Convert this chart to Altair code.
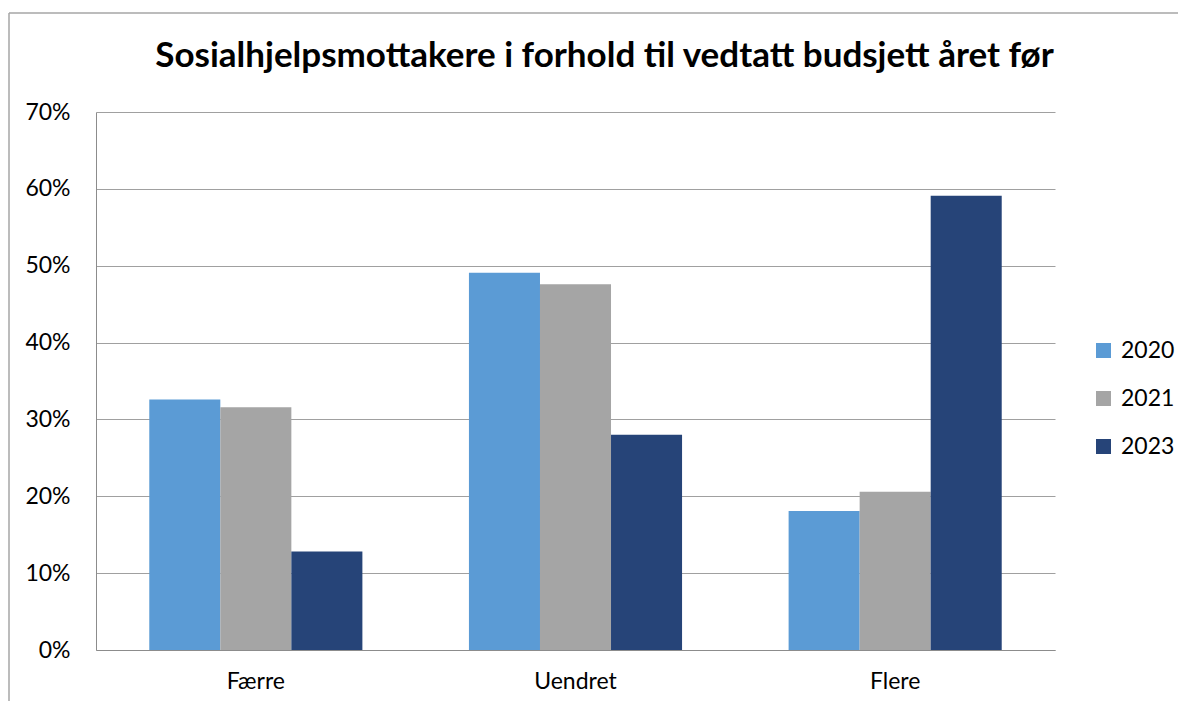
import altair as alt
import pandas as pd

categories = ["Færre", "Uendret", "Flere"]
years = ["2020", "2021", "2023"]
values_2020 = [0.326, 0.491, 0.181]
values_2021 = [0.316, 0.476, 0.206]
values_2023 = [0.128, 0.280, 0.591]
colors = ["#5b9bd5", "#a5a5a5", "#264478"]
title_text = "Sosialhjelpsmottakere i forhold til vedtatt budsjett året før"

rows = []
for yr, vals in zip(years, [values_2020, values_2021, values_2023]):
    for c, v in zip(categories, vals):
        rows.append({"Kategori": c, "År": yr, "Andel": v})
df = pd.DataFrame(rows)

FONT = "Lato"
FS = 23
W, H = 959, 538

bars = alt.Chart(df).mark_bar().encode(
    x=alt.X("Kategori:N", sort=categories, title=None,
            scale=alt.Scale(paddingInner=1/3, paddingOuter=1/6),
            axis=alt.Axis(labelAngle=0, labelFontSize=FS, labelFont=FONT,
                          labelColor="#000000", labelPadding=20, ticks=False,
                          grid=False, domainColor="#8c8c8c", domainWidth=1)),
    xOffset=alt.XOffset("År:N", sort=years,
                        scale=alt.Scale(paddingInner=0, paddingOuter=0)),
    y=alt.Y("Andel:Q", title=None,
            scale=alt.Scale(domain=[0, 0.7], nice=False),
            axis=alt.Axis(format=".0%", values=[0, 0.1, 0.2, 0.3, 0.4, 0.5, 0.6, 0.7],
                          labelFontSize=FS, labelFont=FONT, labelColor="#000000",
                          labelPadding=26, ticks=False, grid=True,
                          gridColor="#a0a0a0", gridWidth=1,
                          domainColor="#8c8c8c", domainWidth=1)),
    color=alt.Color("År:N", sort=years,
                    scale=alt.Scale(domain=years, range=colors),
                    legend=alt.Legend(title=None, orient="none", legendX=996, legendY=227,
                                      symbolType="square", symbolSize=225,
                                      symbolStrokeWidth=0, labelFontSize=FS,
                                      labelFont=FONT, labelColor="#000000",
                                      rowPadding=24, padding=0, labelOffset=6)),
)

one = pd.DataFrame({"a": [0]})
frame_top = alt.Chart(one).mark_rule(color="#a6a6a6", strokeWidth=1.5).encode(
    x=alt.value(-87), x2=alt.value(1110), y=alt.value(-99)
)
frame_left = alt.Chart(one).mark_rule(color="#a6a6a6", strokeWidth=1.5).encode(
    x=alt.value(-87), y=alt.value(-99), y2=alt.value(700)
)

chart = alt.layer(frame_top, frame_left, bars).properties(
    width=W, height=H,
    background="white",
    view=alt.ViewBackground(stroke="transparent", strokeOpacity=0, strokeWidth=0),
    title=alt.TitleParams(title_text, font=FONT, fontSize=35, fontWeight="bold",
                          color="#000000", anchor="middle", dx=29,
                          baseline="alphabetic", offset=-90),
    autosize=alt.AutoSizeParams(type="none"),
    padding={"left": 88, "top": 104, "right": 123, "bottom": 51},
).configure_view(strokeWidth=0, stroke="transparent", strokeOpacity=0)

chart.save("out.html", embed_options={"renderer": "svg", "actions": False})
